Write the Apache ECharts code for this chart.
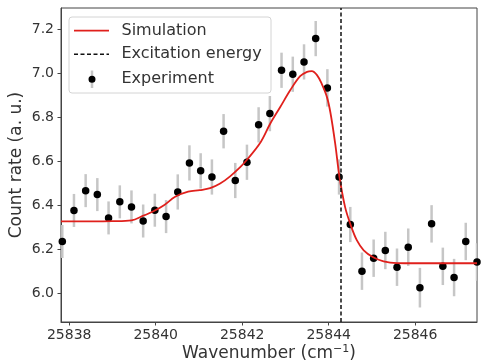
<!DOCTYPE html>
<html>
<head>
<meta charset="utf-8">
<script src="https://cdn.jsdelivr.net/npm/echarts@6/dist/echarts.min.js"></script>
<style>
  html, body { margin: 0; padding: 0; background: #fff; }
  #chart { width: 481px; height: 363px; }
</style>
</head>
<body>
<div id="chart"></div>
<script>
// Measured spectrum (wavenumber in cm^-1, count rate in a. u., 1-sigma error)
const wavenumber = [
  25837.84, 25838.11, 25838.38, 25838.65, 25838.91, 25839.17, 25839.44, 25839.71, 25839.98,
  25840.24, 25840.51, 25840.78, 25841.04, 25841.30, 25841.57, 25841.84, 25842.11, 25842.38,
  25842.64, 25842.91, 25843.17, 25843.43, 25843.70, 25843.97, 25844.24, 25844.50, 25844.77,
  25845.04, 25845.31, 25845.58, 25845.84, 25846.11, 25846.38, 25846.64, 25846.90, 25847.17,
  25847.43
];
const countRate = [
  6.234, 6.375, 6.465, 6.447, 6.341, 6.414, 6.391, 6.327, 6.376,
  6.347, 6.459, 6.591, 6.555, 6.527, 6.735, 6.511, 6.594, 6.764,
  6.815, 7.012, 6.994, 7.050, 7.156, 6.932, 6.527, 6.311, 6.099,
  6.158, 6.193, 6.117, 6.208, 6.024, 6.314, 6.121, 6.070, 6.234,
  6.141
];
const countErr = [
  0.075, 0.075, 0.075, 0.075, 0.075, 0.075, 0.075, 0.075, 0.075,
  0.075, 0.080, 0.080, 0.080, 0.080, 0.078, 0.080, 0.080, 0.080,
  0.080, 0.080, 0.080, 0.080, 0.080, 0.085, 0.080, 0.080, 0.085,
  0.085, 0.085, 0.085, 0.085, 0.090, 0.085, 0.085, 0.085, 0.085,
  0.085
];

// Simulated line shape
const simX = [
  25837.81, 25838.50, 25839.00, 25839.44, 25839.70, 25839.98, 25840.20, 25840.45, 25840.75,
  25841.02, 25841.26, 25841.49, 25841.72, 25841.96, 25842.10, 25842.41, 25842.65, 25842.88,
  25843.11, 25843.34, 25843.50, 25843.61, 25843.73, 25843.84, 25843.96, 25844.04, 25844.15,
  25844.25, 25844.38, 25844.51, 25844.65, 25844.81, 25845.04, 25845.27, 25845.58, 25846.00,
  25846.50, 25847.00, 25847.43
];
const simY = [
  6.325, 6.325, 6.326, 6.330, 6.350, 6.375, 6.400, 6.437, 6.460,
  6.467, 6.476, 6.497, 6.530, 6.573, 6.603, 6.680, 6.770, 6.845,
  6.921, 6.985, 7.005, 7.008, 6.990, 6.950, 6.890, 6.820, 6.680,
  6.527, 6.390, 6.308, 6.240, 6.194, 6.161, 6.144, 6.136, 6.135,
  6.135, 6.135, 6.135
];

const excitationEnergy = 25844.27;

const xTicks = [25838, 25840, 25842, 25844, 25846];
const yTicks = [6.0, 6.2, 6.4, 6.6, 6.8, 7.0, 7.2];
const xRange = [25837.81, 25847.43];
const yRange = [5.868, 7.295];

const FONT = '"DejaVu Sans", "Liberation Sans", sans-serif';
const AXIS_COLOR = '#444';
const TEXT_COLOR = '#333';

const expData = wavenumber.map((x, i) => [x, countRate[i], countErr[i]]);
const simData = simX.map((x, i) => [x, simY[i]]);

const chart = echarts.init(document.getElementById('chart'), null, { renderer: 'canvas' });

chart.setOption({
  animation: false,
  backgroundColor: '#fff',
  grid: {
    left: 61, top: 8, right: 4, bottom: 41,
    outerBoundsMode: 'none',
    containLabel: false,
    show: true, borderColor: AXIS_COLOR, borderWidth: 1, backgroundColor: 'transparent'
  },
  xAxis: {
    type: 'value',
    min: xRange[0], max: xRange[1],
    name: 'Wavenumber (cm{sup|\u22121})',
    nameLocation: 'middle',
    nameGap: 22,
    nameMoveOverlap: false,
    nameTextStyle: {
      fontFamily: FONT, fontSize: 17, color: TEXT_COLOR, lineHeight: 20,
      rich: { sup: { fontFamily: FONT, fontSize: 11, color: TEXT_COLOR, verticalAlign: 'top', lineHeight: 12 } }
    },
    axisLine: { show: true, onZero: false, lineStyle: { color: AXIS_COLOR, width: 1 } },
    axisTick: { show: true, length: 3.5, inside: false, customValues: xTicks, lineStyle: { color: AXIS_COLOR, width: 1 } },
    axisLabel: {
      customValues: xTicks, margin: 6, fontFamily: FONT, fontSize: 14, color: TEXT_COLOR,
      formatter: v => String(Math.round(v))
    },
    splitLine: { show: false }
  },
  yAxis: {
    type: 'value',
    min: yRange[0], max: yRange[1],
    name: 'Count rate (a. u.)',
    nameLocation: 'middle',
    nameGap: 36,
    nameMoveOverlap: false,
    nameTextStyle: { fontFamily: FONT, fontSize: 17, color: TEXT_COLOR },
    axisLine: { show: true, onZero: false, lineStyle: { color: AXIS_COLOR, width: 1 } },
    axisTick: { show: true, length: 3.5, inside: false, customValues: yTicks, lineStyle: { color: AXIS_COLOR, width: 1 } },
    axisLabel: {
      customValues: yTicks, margin: 7, fontFamily: FONT, fontSize: 14, color: TEXT_COLOR,
      formatter: v => v.toFixed(1)
    },
    splitLine: { show: false }
  },
  series: [
    {
      // error bars of the measurement
      name: 'Experiment error',
      type: 'custom',
      clip: true,
      z: 2,
      data: expData,
      renderItem: (params, api) => {
        const x = api.value(0), y = api.value(1), e = api.value(2);
        const lo = api.coord([x, y - e]);
        const hi = api.coord([x, y + e]);
        return {
          type: 'line',
          shape: { x1: lo[0], y1: lo[1], x2: hi[0], y2: hi[1] },
          style: { stroke: '#c6c6c6', lineWidth: 2.5 }
        };
      }
    },
    {
      name: 'Experiment',
      type: 'scatter',
      clip: true,
      z: 3,
      symbol: 'circle',
      symbolSize: 7.5,
      itemStyle: { color: '#000', opacity: 1 },
      data: expData.map(d => [d[0], d[1]])
    },
    {
      name: 'Simulation',
      type: 'line',
      z: 4,
      smooth: 0.35,
      showSymbol: false,
      symbol: 'none',
      clip: true,
      lineStyle: { color: '#e0201c', width: 1.8 },
      data: simData,
      markLine: {
        silent: true,
        symbol: ['none', 'none'],
        label: { show: false },
        lineStyle: { color: '#111', type: [4, 2.5], width: 1.5 },
        data: [{ xAxis: excitationEnergy }]
      }
    }
  ],
  graphic: [
    {
      type: 'group',
      x: 69, y: 17, z: 100,
      children: [
        { type: 'rect', shape: { x: 0, y: 0, width: 202, height: 76, r: 3 },
          style: { fill: 'rgba(255,255,255,0.85)', stroke: '#d4d4d4', lineWidth: 1 } },
        { type: 'line', shape: { x1: 5, y1: 13.7, x2: 40, y2: 13.7 },
          style: { stroke: '#e0201c', lineWidth: 1.8 } },
        { type: 'text', style: { text: 'Simulation', x: 52.5, y: 13.7, verticalAlign: 'middle',
          font: '16px ' + FONT, fill: TEXT_COLOR } },
        { type: 'line', shape: { x1: 5, y1: 37.3, x2: 40, y2: 37.3 },
          style: { stroke: '#111', lineWidth: 1.5, lineDash: [4, 2.5] } },
        { type: 'text', style: { text: 'Excitation energy', x: 52.5, y: 37.3, verticalAlign: 'middle',
          font: '16px ' + FONT, fill: TEXT_COLOR } },
        { type: 'line', shape: { x1: 23, y1: 53.5, x2: 23, y2: 71 },
          style: { stroke: '#c6c6c6', lineWidth: 2.5 } },
        { type: 'circle', shape: { cx: 23, cy: 62.3, r: 3.5 }, style: { fill: '#000' } },
        { type: 'text', style: { text: 'Experiment', x: 52.5, y: 62.3, verticalAlign: 'middle',
          font: '16px ' + FONT, fill: TEXT_COLOR } }
      ]
    }
  ]
});
</script>
</body>
</html>
